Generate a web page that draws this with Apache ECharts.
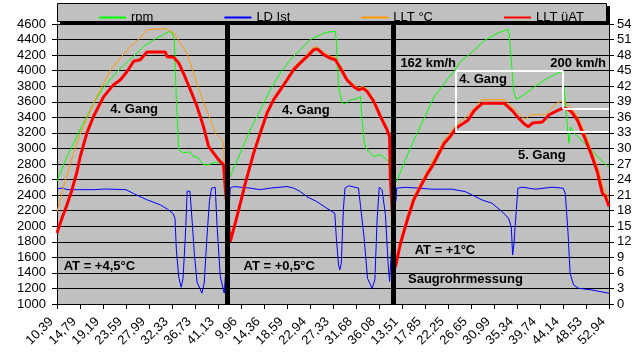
<!DOCTYPE html>
<html>
<head>
<meta charset="utf-8">
<title>LLT Messung</title>
<script src="https://cdn.jsdelivr.net/npm/echarts@6.0.0/dist/echarts.min.js"></script>
<style>
	html, body { margin: 0; padding: 0; background: #fff; }
	#charts { width: 637px; height: 354px; }
</style>
</head>
<body>
<div id="charts"></div>
<script>
// x轴刻度标签 (三次测量拼接)
var xLabels = ['10,39', '14,79', '19,19', '23,59', '27,99', '32,33', '36,73', '41,13',
	'9,96', '14,36', '18,59', '22,94', '27,33', '31,68', '36,08',
	'13,51', '17,85', '22,25', '26,65', '30,99', '35,34', '39,74', '44,14', '48,53', '52,94'];

// 数据点: [刻度序号, 数值]
var rpmData = [
	[0, 2580], [0.23, 2750], [0.45, 2905], [0.67, 3035], [0.93, 3200], [1.23, 3370], [1.58, 3575],
	[2.01, 3780], [2.45, 3935], [2.88, 4065], [3.32, 4180], [3.75, 4310], [4.27, 4410], [4.62, 4460],
	[4.84, 4500], [5.01, 4490], [5.10, 4400], [5.19, 3625], [5.29, 2980], [5.50, 2945], [5.80, 2955],
	[5.94, 2890], [6.10, 2890], [6.37, 2790], [6.58, 2790], [6.81, 2815], [7.10, 2830], [7.24, 2750],
	[7.49, 2620], [7.97, 2940], [8.40, 3240], [8.70, 3410], [8.98, 3580], [9.27, 3755], [9.71, 3970],
	[10.14, 4140], [10.58, 4270], [11.01, 4400], [11.45, 4460], [11.74, 4495], [12.10, 4505],
	[12.14, 4400], [12.24, 3800], [12.39, 3585], [12.53, 3575], [12.75, 3625], [13.04, 3640],
	[13.19, 3670], [13.26, 3370], [13.36, 3070], [13.48, 2980], [13.77, 2895], [14.06, 2920],
	[14.27, 2875], [14.42, 2830], [14.68, 2540], [14.80, 2596], [15.14, 2853], [15.64, 3185],
	[16.39, 3660], [16.95, 3880], [17.20, 3970], [17.55, 4120], [18.00, 4226], [18.60, 4390],
	[19.21, 4490], [19.62, 4530], [19.66, 4470], [19.86, 3730], [19.97, 3630], [20.36, 3700],
	[20.77, 3795], [21.23, 3885], [21.60, 3945], [21.97, 3990], [22.04, 3797], [22.18, 3320],
	[22.26, 3068], [22.33, 3275], [22.48, 3197], [22.92, 3068], [23.36, 2940], [23.79, 2811], [24, 2760]
];

var ldData = [
	[0, 2480], [0.25, 2490], [0.45, 2470], [1.60, 2470], [2.10, 2478], [3.00, 2470], [3.33, 2420],
	[3.91, 2340], [4.49, 2275], [4.85, 2210], [5.05, 2160], [5.13, 2100], [5.19, 1700], [5.29, 1350],
	[5.40, 1215], [5.48, 1330], [5.58, 1865], [5.66, 2450], [5.78, 2450], [5.88, 2050], [5.97, 1650],
	[6.09, 1280], [6.30, 1140], [6.40, 1270], [6.52, 1865], [6.63, 2330], [6.72, 2490], [6.88, 2500],
	[6.96, 2000], [7.10, 1350], [7.27, 1140], [7.32, 1350], [7.53, 2490], [7.68, 2510], [8.40, 2490],
	[8.84, 2470], [9.27, 2490], [10.00, 2510], [10.29, 2490], [10.58, 2445], [10.87, 2380],
	[11.30, 2315], [11.74, 2230], [12.08, 2165], [12.14, 1870], [12.24, 1500], [12.30, 1440],
	[12.36, 1520], [12.45, 2210], [12.52, 2490], [12.68, 2520], [13.11, 2490], [13.20, 2250],
	[13.35, 1860], [13.50, 1330], [13.70, 1200], [13.82, 1310], [13.92, 2100], [14.01, 2500],
	[14.13, 2470], [14.20, 2490], [14.28, 2150], [14.40, 1500], [14.46, 1290], [14.70, 2490],
	[14.73, 2320], [14.77, 2490], [15.14, 2500], [15.72, 2490], [16.30, 2476], [17.17, 2476],
	[17.75, 2445], [18.04, 2403], [18.48, 2338], [18.91, 2296], [19.35, 2188], [19.63, 2103],
	[19.75, 1995], [19.81, 1631], [19.87, 1781], [19.93, 2039], [20.04, 2489], [20.22, 2502],
	[20.80, 2476], [21.52, 2502], [22.01, 2489], [22.10, 2420], [22.22, 1910], [22.31, 1395],
	[22.46, 1245], [22.68, 1202], [23.26, 1180], [24, 1138]
];

var lltData = [
	[0, 17.8], [0.36, 23.9], [0.72, 29.1], [1.01, 32.8], [1.30, 35.9], [1.59, 38.7], [2.03, 42.6],
	[2.32, 45.0], [2.75, 47.4], [3.19, 49.7], [3.62, 51.3], [3.91, 52.9], [4.71, 53.1], [5.07, 52.3],
	[5.36, 50.3], [5.65, 48.4], [5.94, 44.5], [6.23, 40.7], [6.45, 38.1], [6.67, 35.5], [6.88, 33.0],
	[7.10, 32.0], [7.24, 31.3], [7.27, 26.8], [7.53, 12.3], [7.75, 16.0], [7.97, 19.8], [8.19, 23.7],
	[8.55, 29.5], [8.84, 33.4], [9.13, 37.2], [9.42, 39.8], [9.71, 41.7], [10.00, 43.6], [10.29, 45.6],
	[10.58, 46.9], [10.87, 48.1], [11.16, 49.6], [11.30, 49.6], [11.45, 49.1], [11.59, 48.5],
	[11.88, 47.8], [12.10, 47.5], [12.32, 45.9], [12.61, 43.6], [12.90, 42.3], [13.11, 41.7],
	[13.30, 42.0], [13.48, 41.4], [13.77, 39.5], [14.06, 36.7], [14.35, 34.0], [14.46, 32.8],
	[14.49, 25.0], [14.71, 8.1], [14.93, 12.4], [15.23, 17.0], [15.51, 20.7], [15.80, 23.2],
	[16.10, 25.7], [16.32, 27.4], [16.53, 29.2], [16.84, 31.7], [17.10, 33.0], [17.32, 34.4],
	[17.62, 35.5], [17.88, 36.5], [18.14, 37.8], [18.45, 39.4], [19.49, 39.4], [19.79, 38.0],
	[20.06, 36.9], [20.32, 35.7], [20.45, 35.9], [20.58, 36.5], [21.23, 36.5], [21.45, 37.5],
	[21.75, 38.8], [21.97, 39.2], [22.19, 38.6], [22.40, 37.5], [22.66, 35.9], [22.97, 32.8],
	[23.23, 29.7], [23.53, 26.1], [23.75, 22.4], [23.93, 21.2], [24, 20.1]
];

var lltUatData = [
	[0, 13.7], [0.22, 16.6], [0.43, 19.1], [0.65, 22.0], [0.87, 25.5], [1.01, 28.4], [1.30, 33.0],
	[1.59, 36.2], [2.03, 40.0], [2.46, 42.3], [2.75, 43.2], [3.04, 44.8], [3.33, 46.8], [3.62, 47.1],
	[3.91, 48.6], [4.71, 48.6], [4.78, 47.7], [5.07, 47.6], [5.29, 46.5], [5.50, 44.5], [5.80, 41.3],
	[6.09, 38.1], [6.37, 34.2], [6.59, 30.4], [6.81, 29.1], [7.03, 27.8], [7.24, 26.8], [7.32, 22.0],
	[7.53, 12.0], [7.75, 15.6], [7.97, 19.4], [8.19, 23.3], [8.55, 29.1], [8.84, 33.0], [9.13, 36.8],
	[9.42, 39.4], [9.71, 41.3], [10.00, 43.2], [10.29, 45.2], [10.58, 46.5], [10.87, 47.7],
	[11.16, 49.0], [11.30, 49.2], [11.45, 48.7], [11.59, 48.1], [11.88, 47.4], [12.10, 47.1],
	[12.32, 45.5], [12.61, 43.2], [12.90, 41.9], [13.11, 41.3], [13.30, 41.6], [13.48, 41.0],
	[13.77, 39.1], [14.06, 36.2], [14.35, 33.6], [14.46, 32.3], [14.49, 24.5], [14.71, 7.1],
	[14.93, 11.6], [15.23, 16.2], [15.51, 20.1], [15.80, 22.6], [16.10, 25.1], [16.32, 26.6],
	[16.53, 28.4], [16.84, 31.0], [17.10, 32.3], [17.34, 33.9], [17.69, 34.9], [17.88, 35.5],
	[18.14, 37.3], [18.49, 38.7], [19.45, 38.7], [19.79, 37.3], [20.06, 35.9], [20.32, 34.7],
	[20.50, 34.2], [20.67, 34.9], [21.10, 35.1], [21.40, 36.5], [21.75, 37.3], [22.01, 37.8],
	[22.19, 37.6], [22.36, 37.1], [22.62, 35.5], [22.93, 32.2], [23.21, 29.1], [23.49, 25.5],
	[23.71, 21.4], [23.85, 20.7], [24, 18.8]
];

// 测量分隔线 (刻度序号)
var runBreaks = [7.40, 14.60];

// 文字标注: [文字, 刻度序号, rpm]
var notes = [
	['4. Gang', 2.32, 3500],
	['4. Gang', 9.78, 3490],
	['162 km/h', 14.93, 4090],
	['200 km/h', 21.45, 4090],
	['4. Gang', 17.49, 3890],
	['5. Gang', 20.04, 2905],
	['AT = +4,5°C', 0.29, 1480],
	['AT = +0,5°C', 8.11, 1480],
	['AT = +1°C', 15.55, 1695],
	['Saugrohrmessung', 15.26, 1310]
];

// 白色框 (4. Gang 区间)
var gangBox = [
	[[17.33, 4000], [22.01, 4000]],
	[[17.33, 4000], [17.33, 3220]],
	[[17.33, 3220], [24, 3220]],
	[[22.01, 4000], [22.01, 3510]],
	[[22.01, 3510], [24, 3510]]
];

var FONT = '"Liberation Sans", Arial, sans-serif';

function lineSeries(name, data, color, width, yIndex) {
	return {
		name: name,
		type: 'line',
		data: data,
		yAxisIndex: yIndex,
		symbol: 'none',
		showSymbol: false,
		silent: true,
		lineStyle: { color: color, width: width },
		itemStyle: { color: color }
	};
}

var markLines = runBreaks.map(function (v) {
	return { xAxis: v, lineStyle: { color: '#000', width: 5, type: 'solid' } };
});
gangBox.map(function (seg) {
	markLines.push([{ coord: seg[0] }, { coord: seg[1] }]);
});

var myChart = echarts.init(document.getElementById('charts'));

var option = {
	animation: false,
	backgroundColor: '#fff',
	textStyle: { fontFamily: FONT },
	graphic: [
		// 图例框阴影
		{ type: 'rect', z: 1, shape: { x: 60, y: 6, width: 550, height: 19 }, style: { fill: '#000' } },
		{ type: 'rect', z: 2, shape: { x: 57.5, y: 3.5, width: 549, height: 18 }, style: { fill: '#c0c0c0', stroke: '#000', lineWidth: 1 } }
	],
	legend: {
		data: ['rpm', 'LD Ist', 'LLT °C', 'LLT üAT'],
		left: 93,
		top: 6,
		z: 5,
		itemWidth: 27,
		itemHeight: 12,
		itemGap: 70,
		itemStyle: { opacity: 0 },
		textStyle: { fontSize: 13, color: '#000', fontFamily: FONT }
	},
	grid: {
		left: 57,
		right: 28,
		top: 24,
		bottom: 50,
		show: true,
		backgroundColor: '#c0c0c0',
		borderWidth: 0
	},
	xAxis: {
		type: 'value',
		min: 0,
		max: 24,
		interval: 1,
		axisLine: { show: true, onZero: false, lineStyle: { color: '#000', width: 1 } },
		axisTick: { show: true, length: 5, lineStyle: { color: '#000' } },
		splitLine: { show: false },
		axisLabel: {
			rotate: 45,
			margin: 10,
			padding: [0, 8, 0, 0],
			fontSize: 13,
			color: '#000',
			fontFamily: FONT,
			formatter: function (v) {
				return xLabels[Math.round(v)];
			}
		}
	},
	yAxis: [{
		type: 'value',
		min: 1000,
		max: 4600,
		interval: 200,
		position: 'left',
		axisLine: { show: true, onZero: false, lineStyle: { color: '#000', width: 1 } },
		axisTick: { show: true, length: 5, lineStyle: { color: '#000' } },
		splitLine: { show: true, lineStyle: { color: '#000', width: 1 } },
		axisLabel: {
			fontSize: 13,
			color: '#000',
			margin: 11,
			fontFamily: FONT,
			formatter: function (v) {
				return String(v);
			}
		}
	}, {
		type: 'value',
		min: 0,
		max: 54,
		interval: 3,
		position: 'right',
		axisLine: { show: true, onZero: false, lineStyle: { color: '#000', width: 1 } },
		axisTick: { show: true, length: 5, lineStyle: { color: '#000' } },
		splitLine: { show: false },
		axisLabel: {
			fontSize: 13,
			color: '#000',
			margin: 8,
			fontFamily: FONT,
			formatter: function (v) {
				return String(v);
			}
		}
	}],
	series: [
		lineSeries('rpm', rpmData, '#00ff00', 1, 0),
		lineSeries('LD Ist', ldData, '#0000ff', 1, 0),
		lineSeries('LLT °C', lltData, '#ff9900', 1, 1),
		lineSeries('LLT üAT', lltUatData, '#ff0000', 3, 1),
		{
			name: 'marks',
			type: 'line',
			data: [],
			yAxisIndex: 0,
			z: 10,
			silent: true,
			markLine: {
				silent: true,
				animation: false,
				symbol: ['none', 'none'],
				label: { show: false },
				lineStyle: { color: '#fff', width: 2, type: 'solid' },
				emphasis: { disabled: true },
				data: markLines
			},
			markPoint: {
				silent: true,
				animation: false,
				symbol: 'circle',
				symbolSize: 0,
				label: {
					show: true,
					position: [0, 0],
					align: 'left',
					verticalAlign: 'middle',
					fontSize: 13,
					fontWeight: 'bold',
					color: '#000',
					fontFamily: FONT,
					formatter: function (p) {
						return p.name;
					}
				},
				data: notes.map(function (n) {
					return { name: n[0], coord: [n[1], n[2]] };
				})
			}
		}
	]
};

myChart.setOption(option);
</script>
</body>
</html>
